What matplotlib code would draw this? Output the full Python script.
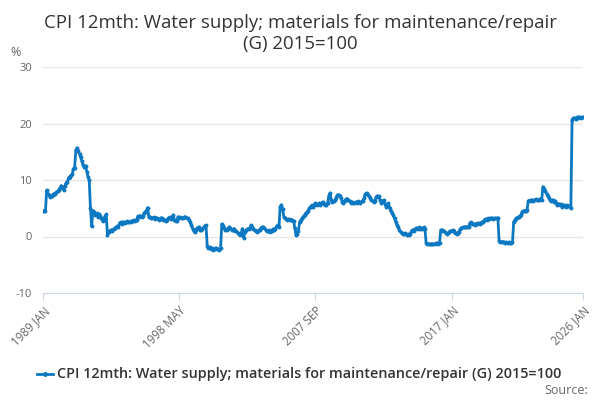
import matplotlib
matplotlib.use("Agg")
import matplotlib.pyplot as plt
import numpy as np

BLUE = "#0b78c1"
GRID = "#e6e6e6"
TEXT = "#333333"
TICK = "#666666"

# monthly 12-month rates, one list per year (Jan..Dec)
y1989 = [4.6, 4.5, 4.5, 8.2, 7.5, 7.3, 7.0, 7.2, 7.4, 7.6, 7.5, 7.8]
y1990 = [8.0, 8.3, 8.6, 9.0, 8.8, 8.2, 8.9, 9.5, 9.7, 10.4, 10.6, 10.8]
y1991 = [11.0, 12.0, 12.2, 15.3, 15.7, 15.2, 14.6, 14.0, 13.3, 12.6, 12.3, 12.5]
y1992 = [11.5, 10.6, 10.0, 5.0, 1.8, 4.6, 4.3, 3.8, 4.1, 3.5, 3.9, 3.6]
y1993 = [3.2, 2.7, 3.0, 3.6, 3.9, 0.2, 0.8, 1.0, 1.2, 1.0, 1.3, 1.5]
y1994 = [1.6, 1.8, 1.7, 2.4, 2.5, 2.3, 2.6, 2.4, 2.5, 2.7, 2.5, 2.6]
y1995 = [2.6, 2.8, 2.7, 2.9, 2.8, 3.0, 3.6, 3.5, 3.7, 3.4, 3.6, 4.1]
y1996 = [4.3, 4.6, 5.1, 3.4, 3.5, 3.3, 3.2, 3.4, 3.1, 3.3, 3.2, 3.0]
y1997 = [3.1, 3.3, 3.2, 2.9, 3.0, 2.7, 2.9, 3.2, 3.4, 3.1, 3.3, 3.8]
y1998 = [3.0, 2.8, 2.7, 3.5, 3.3, 3.4, 3.2, 3.3, 3.4, 3.5, 3.3, 3.2]
y1999 = [3.0, 2.6, 2.1, 1.4, 1.0, 0.8, 1.2, 1.5, 1.7, 1.2, 1.1, 1.4]
y2000 = [1.6, 1.9, 2.0, -1.6, -2.0, -1.9, -2.3, -2.1, -2.4, -2.2, -2.0, -2.3]
y2001 = [-2.2, -2.4, -2.1, 2.2, 1.9, 1.5, 1.2, 1.1, 1.4, 1.7, 1.5, 1.2]
y2002 = [1.2, 1.4, 1.0, 0.9, 0.7, 0.5, 0.3, 0.6, 1.4, -0.2, 0.8, 1.1]
y2003 = [1.3, 1.4, 1.5, 2.0, 1.7, 1.4, 1.1, 0.9, 0.8, 1.0, 1.2, 1.5]
y2004 = [1.6, 1.7, 1.5, 1.2, 1.0, 0.9, 1.1, 0.8, 1.0, 1.3, 1.1, 1.4]
y2005 = [1.8, 2.0, 1.7, 5.3, 5.6, 4.9, 3.5, 3.2, 3.1, 3.0, 3.1, 2.9]
y2006 = [3.0, 2.9, 2.8, 1.5, 0.2, 0.5, 1.0, 2.6, 2.9, 3.2, 3.5, 3.8]
y2007 = [4.1, 4.3, 4.6, 5.0, 5.3, 5.5, 5.2, 5.6, 5.9, 5.5, 5.7, 5.9]
y2008 = [5.6, 5.9, 6.1, 5.8, 5.6, 5.5, 5.9, 7.2, 7.7, 6.5, 6.1, 6.2]
y2009 = [6.4, 6.9, 7.3, 7.4, 7.2, 6.8, 6.1, 6.0, 6.3, 6.6, 6.7, 6.5]
y2010 = [6.2, 6.0, 6.1, 5.9, 6.0, 6.1, 6.0, 6.2, 6.1, 6.0, 6.2, 6.3]
y2011 = [6.8, 7.5, 7.7, 7.4, 7.2, 6.9, 6.5, 6.3, 6.1, 6.3, 7.0, 7.2]
y2012 = [7.1, 6.5, 6.0, 6.2, 6.4, 5.8, 5.3, 5.6, 5.9, 5.0, 4.5, 4.2]
y2013 = [3.8, 3.2, 2.6, 2.0, 1.6, 1.2, 0.8, 0.6, 0.5, 0.4, 0.6, 0.3]
y2014 = [0.4, 0.3, 0.5, 1.0, 1.2, 1.0, 1.3, 1.5, 1.4, 1.6, 1.3, 1.5]
y2015 = [1.4, 1.6, 1.3, -1.1, -1.3, -1.3, -1.4, -1.4, -1.3, -1.4, -1.3, -1.2]
y2016 = [-1.2, -1.3, -1.2, 1.1, 1.2, 1.0, 0.9, 0.7, 0.5, 0.6, 0.8, 1.0]
y2017 = [1.0, 1.1, 0.9, 0.6, 0.5, 0.7, 0.8, 1.3, 1.5, 1.6, 1.6, 1.7]
y2018 = [1.6, 1.7, 1.6, 2.4, 2.5, 2.3, 2.2, 2.0, 2.3, 2.2, 2.4, 2.3]
y2019 = [2.4, 2.6, 2.5, 3.0, 3.1, 3.0, 3.2, 3.1, 3.3, 3.2, 3.1, 3.2]
y2020 = [3.2, 3.2, 3.3, -0.8, -0.9, -1.0, -0.9, -1.0, -1.1, -1.0, -1.1, -1.0]
y2021 = [-1.1, -1.1, -1.0, 2.6, 2.9, 3.2, 3.3, 3.5, 3.6, 3.8, 4.4, 4.5]
y2022 = [4.6, 4.5, 4.7, 6.3, 6.4, 6.2, 6.5, 6.3, 6.4, 6.6, 6.5, 6.4]
y2023 = [6.5, 6.7, 6.4, 8.8, 8.4, 8.0, 7.6, 7.2, 6.8, 6.4, 6.2, 6.5]
y2024 = [6.1, 6.3, 5.9, 5.6, 5.8, 5.5, 5.7, 5.3, 5.6, 5.4, 5.3, 5.5]
y2025 = [5.4, 5.2, 5.1, 20.7, 20.9, 21.0, 20.8, 21.1, 21.0, 21.2, 21.0, 21.1]
y2026 = [21.1]

years = [y1989, y1990, y1991, y1992, y1993, y1994, y1995, y1996, y1997,
         y1998, y1999, y2000, y2001, y2002, y2003, y2004, y2005, y2006,
         y2007, y2008, y2009, y2010, y2011, y2012, y2013, y2014, y2015,
         y2016, y2017, y2018, y2019, y2020, y2021, y2022, y2023, y2024,
         y2025, y2026]
values = [v for yr in years for v in yr]

tick_labels = ["1989 JAN", "1998 MAY", "2007 SEP", "2017 JAN", "2026 JAN"]
tick_pos = [0, 112, 224, 336, 444]
y_ticks = [-10, 0, 10, 20, 30]

series_name = "CPI 12mth: Water supply; materials for maintenance/repair (G) 2015=100"

plt.rcParams["font.family"] = ["Open Sans", "DejaVu Sans"]

fig = plt.figure(figsize=(6, 4), dpi=100, facecolor="white")
ax = fig.add_axes([0.0717, 0.2675, 0.9, 0.565])

x = np.arange(len(values))
ax.plot(x, values, color=BLUE, linewidth=2, marker="o", markersize=2.8,
        markeredgewidth=0, zorder=3)

ax.set_xlim(0, 444)
ax.set_ylim(-10, 30)
ax.set_yticks(y_ticks)
ax.set_yticklabels([str(t) for t in y_ticks], color=TICK, fontsize=8)
ax.set_xticks(tick_pos)
ax.set_xticklabels(tick_labels, rotation=45, ha="right",
                   rotation_mode="anchor", color=TICK, fontsize=8.3)
ax.grid(axis="y", color=GRID, linewidth=1)
ax.set_axisbelow(True)
for side in ("top", "right", "left"):
    ax.spines[side].set_visible(False)
ax.spines["bottom"].set_color("#ccd6eb")
ax.tick_params(axis="y", length=0, pad=8)
ax.tick_params(axis="x", length=5, color="#ccd6eb", pad=3)

fig.text(0.5, 0.917, "CPI 12mth: Water supply; materials for maintenance/repair\n(G) 2015=100",
         ha="center", va="center", fontsize=13.4, color=TEXT, linespacing=1.2)
fig.text(0.017, 0.87, "%", ha="left", va="center", fontsize=9, color=TICK)

# legend
fig.lines.append(plt.Line2D([0.062, 0.088], [0.065, 0.065], color=BLUE, linewidth=2,
                            transform=fig.transFigure))
fig.lines.append(plt.Line2D([0.075], [0.065], color=BLUE, marker="o", markersize=3.5,
                            markeredgewidth=0, transform=fig.transFigure))
fig.text(0.095, 0.065, series_name, ha="left", va="center", fontsize=10.4,
         fontweight="semibold", color=TEXT)
fig.text(0.98, 0.025, "Source:", ha="right", va="center", fontsize=9, color=TICK)

fig.savefig("out.png", dpi=100, facecolor="white")
